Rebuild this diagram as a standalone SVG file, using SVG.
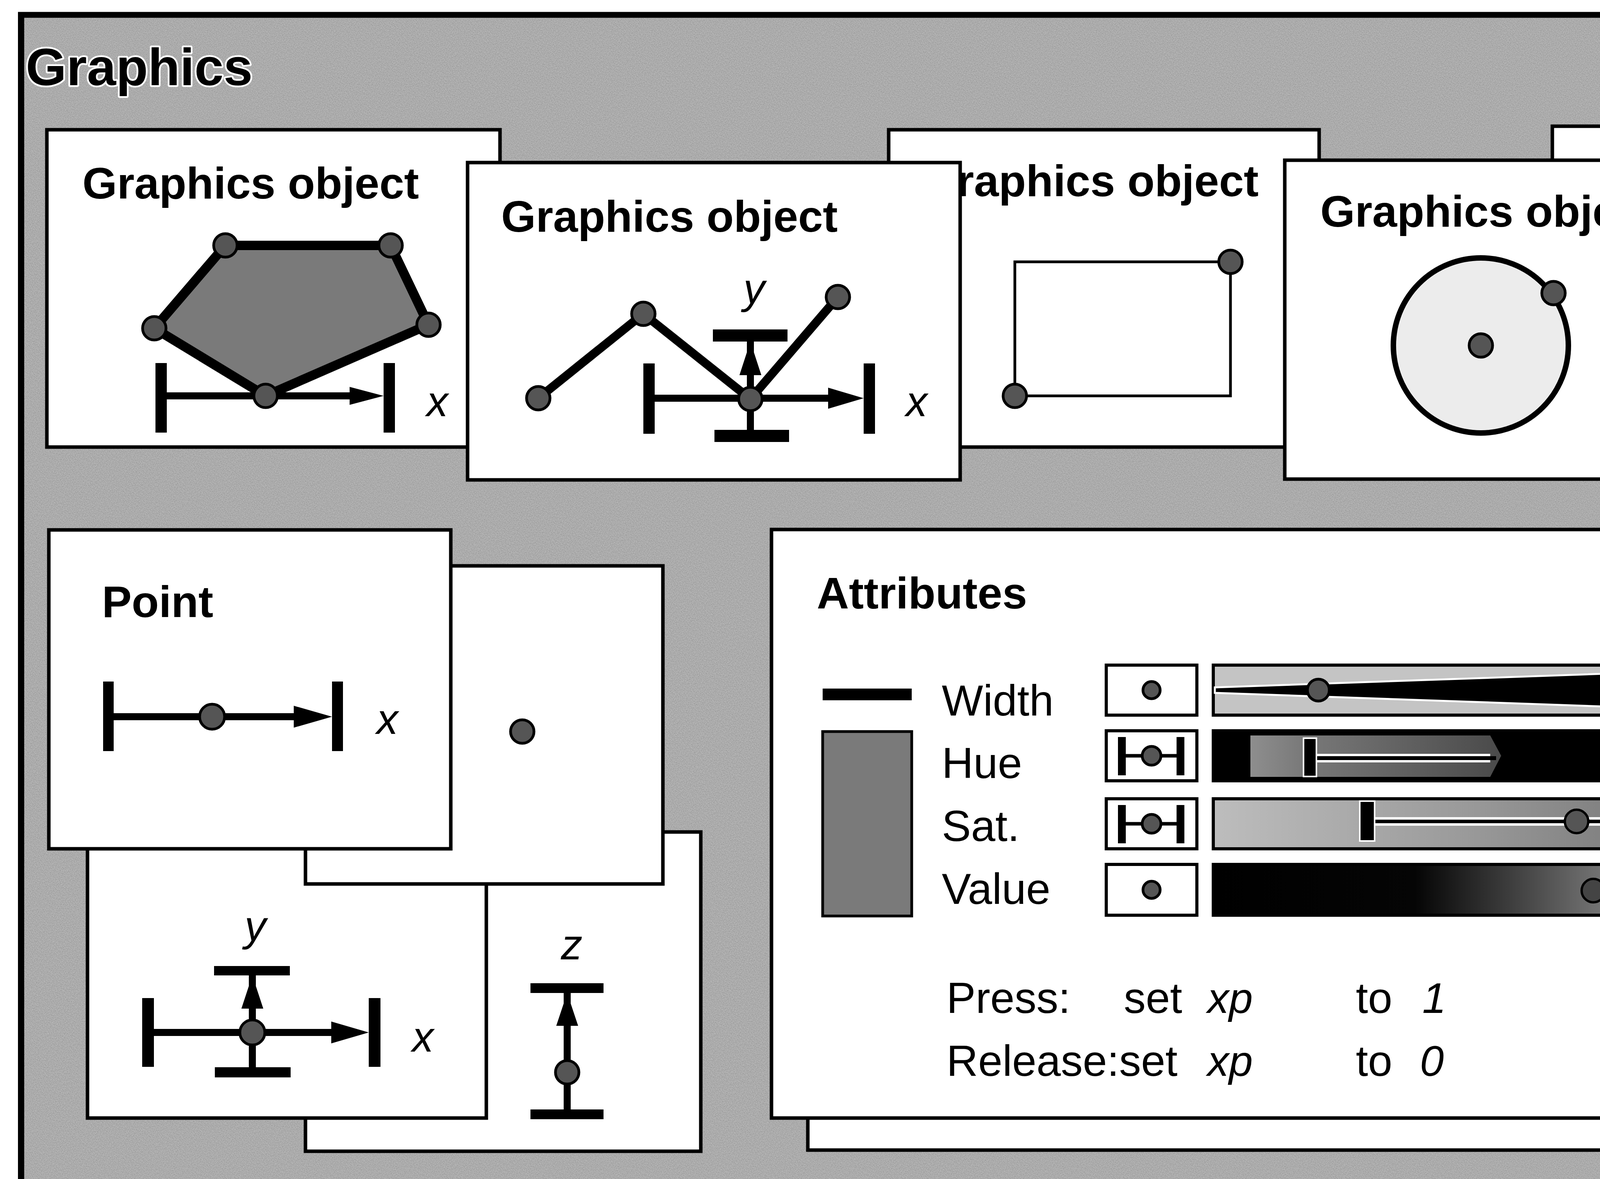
<svg xmlns="http://www.w3.org/2000/svg" width="5202" height="3017" viewBox="0 0 5202 3017">
<defs>
<style>
.box{fill:#fff;stroke:#000;stroke-width:9}
.lbl{font-family:"Liberation Sans",Arial,sans-serif;font-weight:bold;font-size:114px;fill:#000}
.it{font-family:"Liberation Sans",Arial,sans-serif;font-style:italic;font-size:110px;fill:#000}
.rg{font-family:"Liberation Sans",Arial,sans-serif;font-size:112px;fill:#000}
.dot{fill:#555;stroke:#000;stroke-width:7}
.bar{fill:#000}
.ln{stroke:#000;stroke-width:18;fill:none}
.halo{stroke:#fff;stroke-width:22;fill:none}
</style>
<filter id="speckle" x="0" y="0" width="1" height="1" filterUnits="objectBoundingBox">
<feTurbulence type="fractalNoise" baseFrequency="0.45" numOctaves="1" seed="7" result="n"/>
<feColorMatrix in="n" type="matrix" values="1.08 0 0 0 0  1.08 0 0 0 0  1.08 0 0 0 0  0 0 0 0 1"/>
</filter>
<linearGradient id="gHue" x1="0" y1="0" x2="1" y2="0">
<stop offset="0" stop-color="#8e8e8e"/><stop offset="0.2" stop-color="#7a7a7a"/><stop offset="1" stop-color="#4a4a4a"/>
</linearGradient>
<linearGradient id="gSat" x1="0" y1="0" x2="1" y2="0">
<stop offset="0" stop-color="#bdbdbd"/><stop offset="0.5" stop-color="#9a9a9a"/><stop offset="1" stop-color="#6e6e6e"/>
</linearGradient>
<linearGradient id="gVal" x1="0" y1="0" x2="1" y2="0">
<stop offset="0" stop-color="#000"/><stop offset="0.4" stop-color="#050505"/><stop offset="0.75" stop-color="#6e6e6e"/><stop offset="1" stop-color="#a4a4a4"/>
</linearGradient>
</defs>
<rect x="0" y="0" width="5202" height="3017" fill="#fff"/>
<g id="frame">
<rect x="54" y="38" width="5148" height="2979" fill="#a0a0a0"/>
<rect x="54" y="38" width="5148" height="2979" filter="url(#speckle)" opacity="0.35"/>
<line x1="46" y1="38" x2="5202" y2="38" stroke="#000" stroke-width="15"/>
<line x1="54" y1="31" x2="54" y2="3017" stroke="#000" stroke-width="16"/>
<text x="66" y="218" font-family="Liberation Sans,Arial,sans-serif" font-weight="bold" font-size="134" fill="#000" stroke="#fff" stroke-width="9" stroke-linejoin="round" paint-order="stroke">Graphics</text>
</g>

<g id="objA">
<rect class="box" x="120" y="332" width="1160" height="812"/>
<text class="lbl" x="211" y="508">Graphics object</text>
<polygon points="577,628 1000,628 1097,831 680,1013 395,840" fill="#7a7a7a" stroke="#000" stroke-width="24" stroke-linejoin="round"/>
<line class="ln" x1="412" y1="1013" x2="900" y2="1013"/>
<rect class="bar" x="398" y="929" width="29" height="178"/>
<rect class="bar" x="982" y="929" width="29" height="178"/>
<polygon class="bar" points="895,990 895,1036 982,1013"/>
<circle class="dot" cx="577" cy="628" r="30"/>
<circle class="dot" cx="1000" cy="628" r="30"/>
<circle class="dot" cx="1097" cy="831" r="30"/>
<circle class="dot" cx="680" cy="1013" r="30"/>
<circle class="dot" cx="395" cy="840" r="30"/>
<text class="it" x="1092" y="1065">x</text>
</g>

<g id="objC">
<rect class="box" x="2275" y="332" width="1102" height="812"/>
<text class="lbl" x="3222" y="502" text-anchor="end">raphics object</text>
<rect x="2598" y="670" width="552" height="343" fill="none" stroke="#000" stroke-width="7"/>
<circle class="dot" cx="3150" cy="670" r="30"/>
<circle class="dot" cx="2598" cy="1013" r="30"/>
</g>

<g id="objE">
<rect class="box" x="3974" y="323" width="1110" height="821"/>
<text class="lbl" x="4925" y="539" text-anchor="end">hics object</text>
<text class="it" x="4467" y="697">z</text>
<line class="ln" x1="4500" y1="779" x2="4500" y2="1076"/>
<rect class="bar" x="4409" y="755" width="182" height="26"/>
<rect class="bar" x="4409" y="1076" width="182" height="27"/>
<polygon class="bar" points="4472,866 4530,866 4500,779"/>
<circle class="dot" cx="4500" cy="978" r="30"/>
<text class="it" x="4600" y="970" font-size="114">p = $x</text>
</g>

<g id="objB">
<rect class="box" x="1197" y="416" width="1261" height="812"/>
<text class="lbl" x="1283" y="593">Graphics object</text>
<polyline points="1378,1019 1647,803 1921,1021 2145,760" fill="none" stroke="#000" stroke-width="22" stroke-linejoin="round"/>
<line class="ln" x1="1676" y1="1019" x2="2125" y2="1019" stroke-width="17"/>
<rect class="bar" x="1647" y="930" width="29" height="180"/>
<rect class="bar" x="2211" y="930" width="29" height="180"/>
<polygon class="bar" points="2120,992 2120,1046 2211,1019"/>
<line class="ln" x1="1921" y1="874" x2="1921" y2="1100" stroke-width="20"/>
<rect class="bar" x="1825" y="843" width="191" height="31"/>
<rect class="bar" x="1829" y="1100" width="191" height="31"/>
<polygon class="bar" points="1893,960 1949,960 1921,874"/>
<circle class="dot" cx="1378" cy="1019" r="30"/>
<circle class="dot" cx="1647" cy="803" r="30"/>
<circle class="dot" cx="1921" cy="1021" r="30"/>
<circle class="dot" cx="2145" cy="760" r="30"/>
<text class="it" x="1903" y="776">y</text>
<text class="it" x="2319" y="1065">x</text>
</g>

<g id="objD">
<rect class="box" x="3289" y="410" width="1053" height="816"/>
<text class="lbl" x="3380" y="580">Graphics object</text>
<circle cx="3791" cy="884" r="224" fill="#ececec" stroke="#000" stroke-width="14"/>
<circle class="dot" cx="3791" cy="884" r="30"/>
<circle class="dot" cx="3977" cy="750" r="30"/>
</g>

<g id="pointZ">
<rect class="box" x="782" y="2129" width="1012" height="817"/>
<text class="it" x="1436" y="2455">z</text>
<line class="ln" x1="1452" y1="2541" x2="1452" y2="2839"/>
<rect class="bar" x="1358" y="2516" width="187" height="25"/>
<rect class="bar" x="1358" y="2839" width="187" height="25"/>
<polygon class="bar" points="1424,2625 1480,2625 1452,2541"/>
<circle class="dot" cx="1452" cy="2744" r="30"/>
</g>

<g id="pointXY">
<rect class="box" x="224" y="1800" width="1021" height="1061"/>
<text class="it" x="626" y="2407">y</text>
<line class="ln" x1="646" y1="2496" x2="646" y2="2731"/>
<rect class="bar" x="548" y="2472" width="194" height="24"/>
<rect class="bar" x="550" y="2731" width="194" height="26"/>
<polygon class="bar" points="618,2581 674,2581 646,2496"/>
<line class="ln" x1="394" y1="2642" x2="850" y2="2642"/>
<rect class="bar" x="364" y="2554" width="30" height="176"/>
<rect class="bar" x="944" y="2554" width="30" height="176"/>
<polygon class="bar" points="848,2614 848,2670 944,2642"/>
<circle class="dot" cx="646" cy="2642" r="32"/>
<text class="it" x="1055" y="2691">x</text>
</g>

<g id="pointDot">
<rect class="box" x="782" y="1448" width="915" height="814"/>
<circle class="dot" cx="1337" cy="1872" r="30"/>
</g>

<g id="point">
<rect class="box" x="125" y="1356" width="1029" height="816"/>
<text class="lbl" x="261" y="1579">Point</text>
<line class="ln" x1="291" y1="1834" x2="760" y2="1834"/>
<rect class="bar" x="264" y="1744" width="27" height="178"/>
<rect class="bar" x="850" y="1744" width="28" height="178"/>
<polygon class="bar" points="752,1806 752,1862 850,1834"/>
<circle class="dot" cx="543" cy="1834" r="32"/>
<text class="it" x="964" y="1878">x</text>
</g>

<g id="attributesBack">
<rect class="box" x="2068" y="1440" width="3025" height="1503"/>
</g>

<g id="attributes">
<rect class="box" x="1975" y="1355" width="3024" height="1506"/>
<text class="lbl" x="2091" y="1557">Attributes</text>
<rect x="2106" y="1762" width="228" height="30" fill="#000"/>
<rect x="2106" y="1872" width="228" height="472" fill="#7a7a7a" stroke="#000" stroke-width="7"/>
<text class="rg" x="2411" y="1831">Width</text>
<text class="rg" x="2411" y="1991">Hue</text>
<text class="rg" x="2411" y="2152">Sat.</text>
<text class="rg" x="2411" y="2313">Value</text>

<rect x="2832" y="1702" width="232" height="128" fill="#fff" stroke="#000" stroke-width="8"/>
<circle class="dot" cx="2948" cy="1766" r="22"/>
<rect x="2832" y="1870" width="232" height="128" fill="#fff" stroke="#000" stroke-width="8"/>
<line x1="2880" y1="1934" x2="3012" y2="1934" stroke="#000" stroke-width="9"/>
<rect class="bar" x="2862" y="1886" width="20" height="98"/>
<rect class="bar" x="3012" y="1886" width="20" height="98"/>
<circle class="dot" cx="2948" cy="1934" r="24"/>
<rect x="2832" y="2044" width="232" height="128" fill="#fff" stroke="#000" stroke-width="8"/>
<line x1="2880" y1="2108" x2="3012" y2="2108" stroke="#000" stroke-width="9"/>
<rect class="bar" x="2862" y="2060" width="20" height="98"/>
<rect class="bar" x="3012" y="2060" width="20" height="98"/>
<circle class="dot" cx="2948" cy="2108" r="24"/>
<rect x="2832" y="2212" width="232" height="130" fill="#fff" stroke="#000" stroke-width="8"/>
<circle class="dot" cx="2948" cy="2277" r="22"/>

<rect x="3106" y="1702" width="1291" height="128" fill="#c4c4c4" stroke="#000" stroke-width="8"/>
<polygon points="3110,1759 3110,1773 4393,1818 4393,1714" fill="#000" stroke="#fff" stroke-width="5"/>
<circle class="dot" cx="3375" cy="1766" r="28"/>

<rect x="3106" y="1870" width="1291" height="128" fill="#000" stroke="#000" stroke-width="8"/>
<polygon points="3201,1882 3815,1882 3843,1934 3815,1988 3201,1988" fill="url(#gHue)"/>
<line class="halo" x1="3370" y1="1940" x2="3815" y2="1940"/>
<line x1="3360" y1="1940" x2="3830" y2="1940" stroke="#000" stroke-width="10"/>
<rect x="3337" y="1889" width="33" height="98" fill="#000" stroke="#fff" stroke-width="4"/>
<line x1="4313" y1="1895" x2="4313" y2="1982" stroke="#777" stroke-width="5"/>
<polygon points="4215,1922 4215,1962 4300,1942" fill="none" stroke="#3a3a3a" stroke-width="4"/>

<rect x="3106" y="2044" width="1291" height="128" fill="url(#gSat)" stroke="#000" stroke-width="8"/>
<line class="halo" x1="3519" y1="2102" x2="4130" y2="2102"/>
<line x1="3510" y1="2102" x2="4140" y2="2102" stroke="#000" stroke-width="9"/>
<rect x="3481" y="2050" width="38" height="102" fill="#000" stroke="#fff" stroke-width="4"/>
<circle cx="4036" cy="2102" r="30" fill="#555" stroke="#000" stroke-width="6"/>
<polygon points="4131,2078 4131,2126 4217,2102" fill="#888" stroke="#000" stroke-width="7"/>
<rect x="4222" y="2052" width="24" height="105" fill="#000"/>

<rect x="3106" y="2212" width="1291" height="130" fill="url(#gVal)" stroke="#000" stroke-width="8"/>
<circle cx="4079" cy="2279" r="30" fill="#444" stroke="#000" stroke-width="6"/>

<text class="it" x="4479" y="2001">x</text>
<text class="it" x="4486" y="2160">temp</text>

<text class="rg" x="2423" y="2592">Press:</text>
<text class="rg" x="2877" y="2592">set</text>
<text class="it" x="3091" y="2592">xp</text>
<text class="rg" x="3471" y="2592">to</text>
<text class="it" x="3641" y="2592">1</text>
<text class="rg" x="2423" y="2753">Release:set</text>
<text class="it" x="3091" y="2753">xp</text>
<text class="rg" x="3471" y="2753">to</text>
<text class="it" x="3635" y="2753">0</text>
</g>
</svg>
